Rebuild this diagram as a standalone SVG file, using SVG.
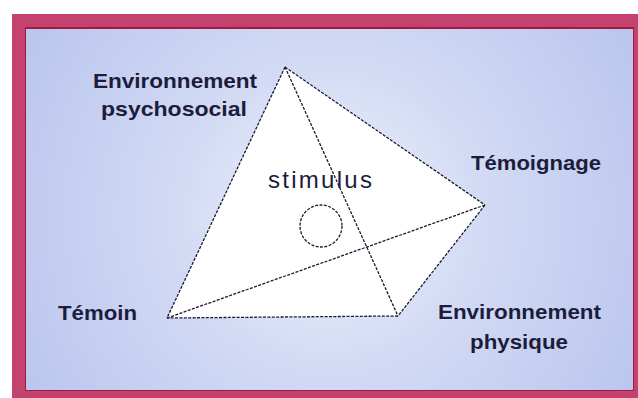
<svg xmlns="http://www.w3.org/2000/svg" width="638" height="398" viewBox="0 0 638 398">
<defs>
<radialGradient id="bg" cx="330" cy="215" r="340" gradientUnits="userSpaceOnUse">
<stop offset="0" stop-color="#f0f3fc"/>
<stop offset="0.45" stop-color="#d2daf4"/>
<stop offset="1" stop-color="#bcc7ee"/>
</radialGradient>
<style>
.lbl{font-family:"Liberation Sans",Arial,sans-serif;font-weight:bold;font-size:21px;fill:#1c1c3c}
.edge{fill:none;stroke:#1a1a30;stroke-width:1.3;stroke-dasharray:3 1.4}
</style>
</defs>
<rect x="0" y="0" width="638" height="398" fill="#ffffff"/>
<rect x="12" y="14" width="626" height="384" fill="#c4426e"/>
<rect x="25" y="27" width="609" height="364" fill="#9e1a40"/>
<rect x="26" y="29" width="607" height="361" fill="url(#bg)"/>
<g id="body">
<polygon points="285,67 485,205 398,316 167,318" fill="#ffffff"/>
</g>
<g id="connectors">
<line class="edge" x1="285" y1="67" x2="167" y2="318"/>
<line class="edge" x1="285" y1="67" x2="485" y2="205"/>
<line class="edge" x1="485" y1="205" x2="398" y2="316"/>
<line class="edge" x1="398" y1="316" x2="167" y2="318"/>
<line class="edge" x1="167" y1="318" x2="485" y2="205"/>
<line class="edge" x1="285" y1="67" x2="398" y2="316"/>
</g>
<g id="stimulus">
<circle class="edge" cx="321" cy="226" r="21"/>
<text x="268" y="188" font-family="Liberation Sans,Arial,sans-serif" font-size="24" fill="#1c1c3c" textLength="104" lengthAdjust="spacing">stimulus</text>
</g>
<g id="psychosocial">
<text class="lbl" x="93" y="88" textLength="164" lengthAdjust="spacingAndGlyphs">Environnement</text>
<text class="lbl" x="101" y="116" textLength="146" lengthAdjust="spacingAndGlyphs">psychosocial</text>
</g>
<g id="temoignage">
<text class="lbl" x="471" y="170" textLength="130" lengthAdjust="spacingAndGlyphs">Témoignage</text>
</g>
<g id="temoin">
<text class="lbl" x="58" y="320" textLength="79" lengthAdjust="spacingAndGlyphs">Témoin</text>
</g>
<g id="physique">
<text class="lbl" x="438" y="319" textLength="163" lengthAdjust="spacingAndGlyphs">Environnement</text>
<text class="lbl" x="470" y="349" textLength="98" lengthAdjust="spacingAndGlyphs">physique</text>
</g>
</svg>
